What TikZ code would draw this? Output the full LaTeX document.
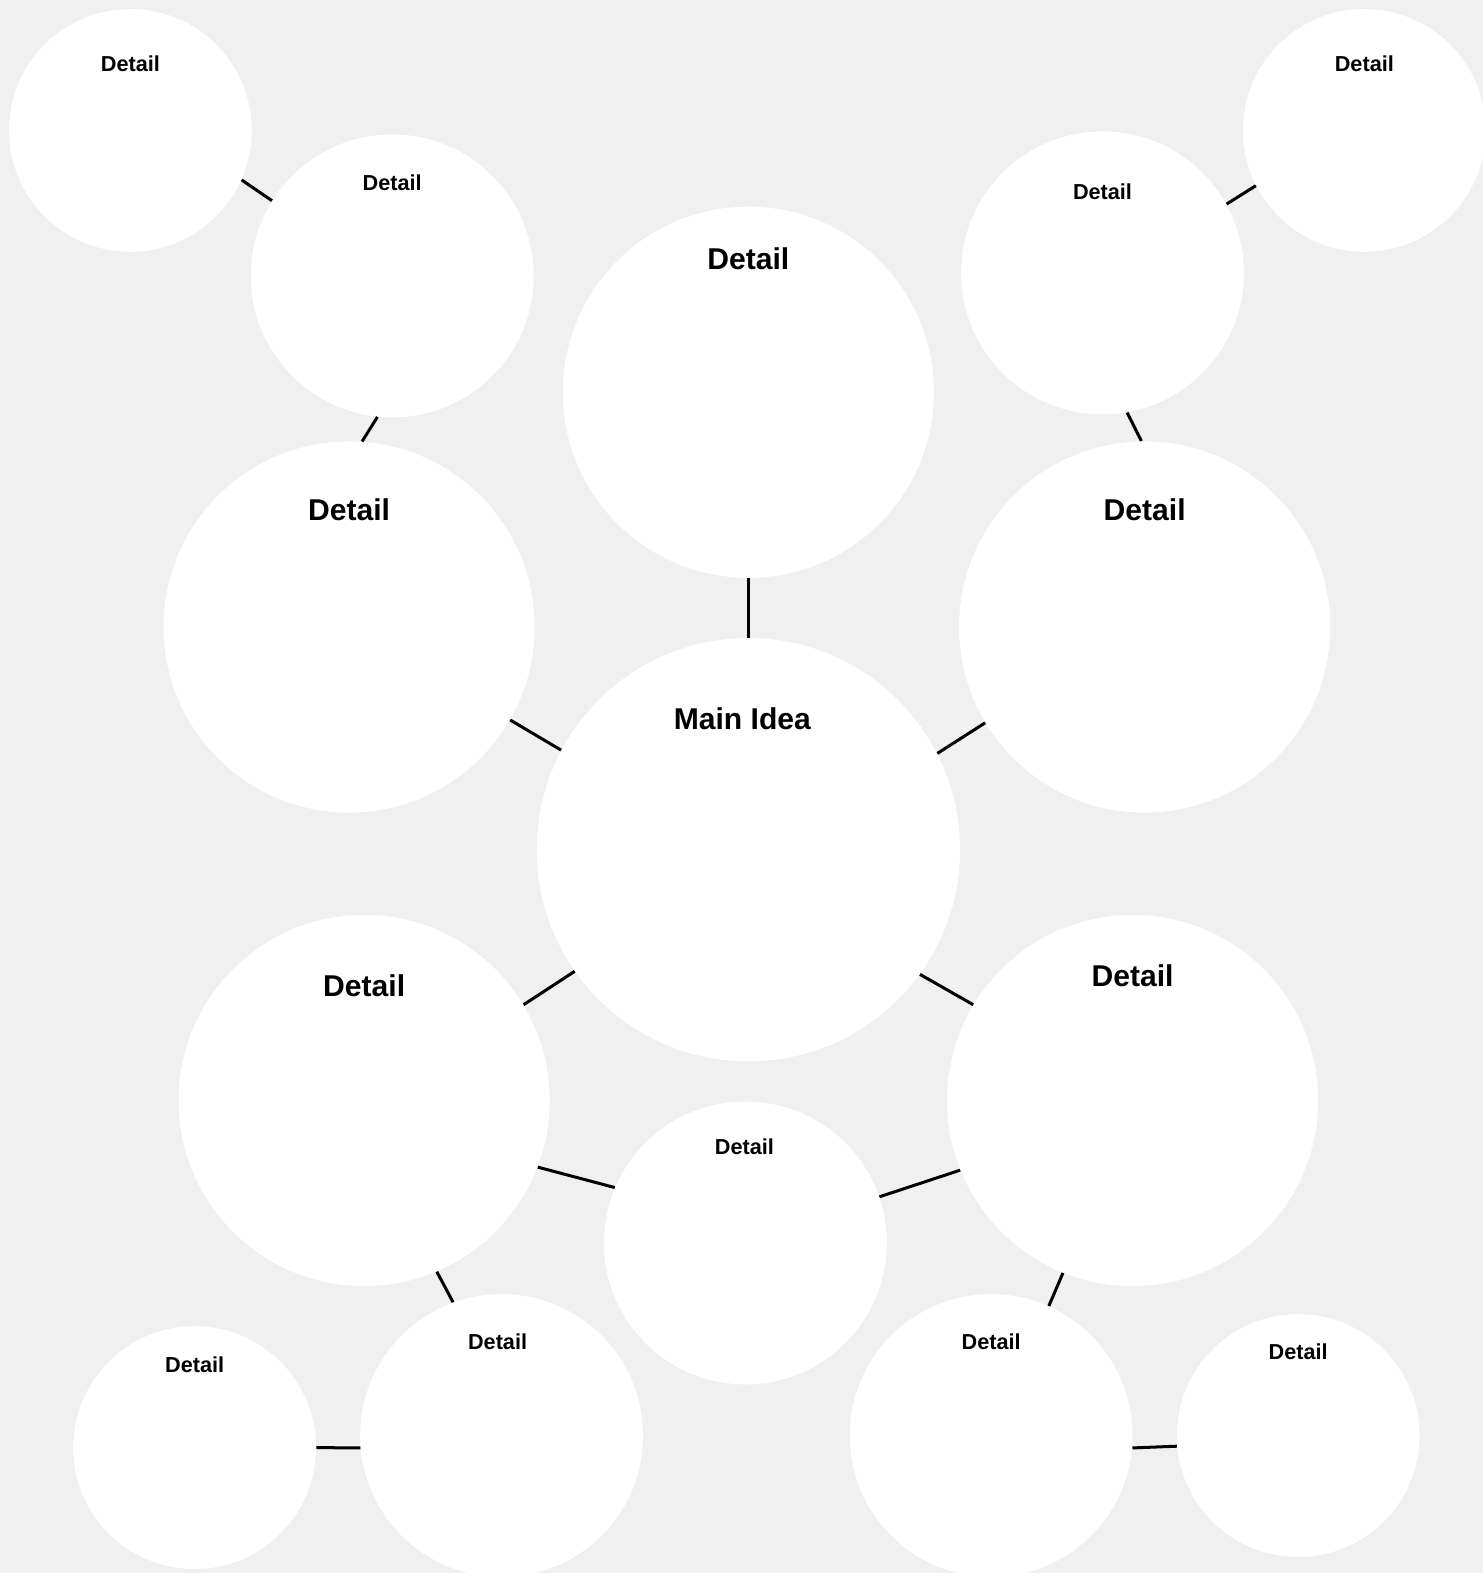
\documentclass[tikz,border=0pt]{standalone}
\usepackage{fontspec}
\setmainfont{Liberation Sans}
\usetikzlibrary{positioning}
\definecolor{PageGray}{HTML}{F0F0F0}

\begin{document}
\begin{tikzpicture}[
  x=0.5pt, y=-0.5pt,
  bubble/.style={circle, fill=white, inner sep=0pt},
  small/.style={bubble, minimum size=121pt},
  mid/.style={bubble, minimum size=141pt},
  big/.style={bubble, minimum size=185pt},
  huge/.style={bubble, minimum size=211pt},
  lblbig/.style={font=\fontsize{15}{15}\selectfont\bfseries, inner sep=0pt},
  lblsmall/.style={font=\fontsize{10.8}{11}\selectfont\bfseries, inner sep=0pt},
  link/.style={line width=1.5pt, black}
]
\fill[PageGray] (0,0) rectangle (1478,1568);
\useasboundingbox (0,0) rectangle (1478,1568);

% circles
\node[small] (tl) at (130,130) {};
\node[mid] (tlm) at (391,275) {};
\node[big] (top) at (746,391) {};
\node[mid] (trm) at (1099,272) {};
\node[small] (tr) at (1360,130) {};
\node[big] (left) at (348,625) {};
\node[big] (right) at (1141,625) {};
\node[huge] (main) at (746,847) {};
\node[big] (ll) at (363,1097) {};
\node[big] (lr) at (1129,1097) {};
\node[mid] (bot) at (743,1239) {};
\node[small] (bls) at (194,1443) {};
\node[mid] (blm) at (500,1431) {};
\node[mid] (brm) at (988,1431) {};
\node[small] (brs) at (1294,1431) {};

% labels
\node[lblsmall] at (130,64) {Detail};
\node[lblsmall] at (391,182) {Detail};
\node[lblbig] at (746,258) {Detail};
\node[lblsmall] at (1099,191) {Detail};
\node[lblsmall] at (1360,64) {Detail};
\node[lblbig] at (348,508) {Detail};
\node[lblbig] at (1141,508) {Detail};
\node[lblbig] at (740,716) {Main Idea};
\node[lblbig] at (363,983) {Detail};
\node[lblbig] at (1129,973) {Detail};
\node[lblsmall] at (742,1143) {Detail};
\node[lblsmall] at (194,1360) {Detail};
\node[lblsmall] at (496,1337) {Detail};
\node[lblsmall] at (988,1337) {Detail};
\node[lblsmall] at (1294,1347) {Detail};

% links
\draw[link] (tl.-24.7) -- (tlm.148);
\draw[link] (tlm.-96.5) -- (left.86.6);
\draw[link] (top) -- (main);
\draw[link] (trm.-80.7) -- (right.91.5);
\draw[link] (trm.29) -- (tr.207.4);
\draw[link] (left.-30.6) -- (main.152.2);
\draw[link] (right.211.4) -- (main.27.3);
\draw[link] (main.215.6) -- (ll.31.4);
\draw[link] (main.-36) -- (lr.149.3);
\draw[link] (ll.-21.2) -- (bot.157.4);
\draw[link] (lr.202) -- (bot.19);
\draw[link] (ll.-67.6) -- (blm.110.2);
\draw[link] (lr.-112.7) -- (brm.66);
\draw[link] (bls.0) -- (blm.185);
\draw[link] (brm.-5) -- (brs.185);
\end{tikzpicture}
\end{document}
